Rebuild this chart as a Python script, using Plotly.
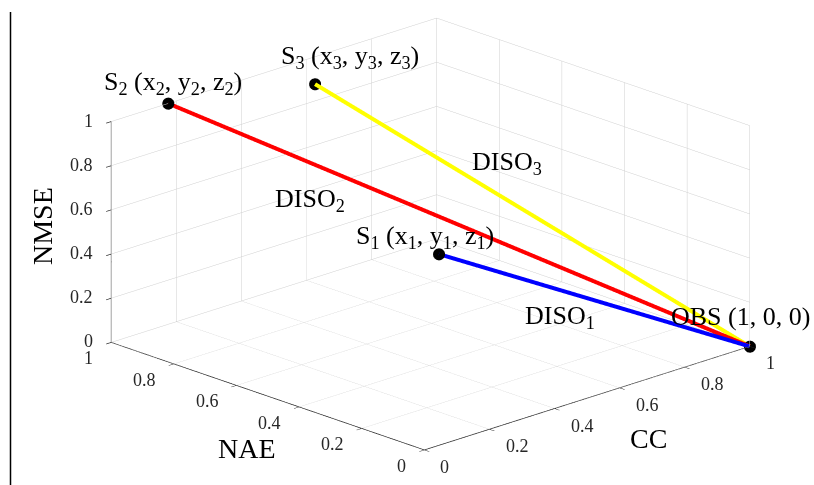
import plotly.graph_objects as go
import numpy as np

# Data: (CC, NAE, NMSE)
point_names = ["OBS", "S1", "S2", "S3"]
cc_vals   = [1.0, 0.42, 0.175, 0.53]
nae_vals  = [0.0, 0.39, 1.0, 0.90]
nmse_vals = [0.0, 0.50, 1.0, 0.97]
line_colors = {"S1": "#0000ff", "S2": "#ff0000", "S3": "#ffff00"}
tick_vals = [0, 0.2, 0.4, 0.6, 0.8, 1.0]
tick_text = ["0", "0.2", "0.4", "0.6", "0.8", "1"]

FONT = "Liberation Serif, Times New Roman, serif"
W, H = 814, 485
TICKC = "#262626"

fig = go.Figure()
for name in ["S2", "S3", "S1"]:
    i = point_names.index(name)
    fig.add_trace(go.Scatter3d(
        x=[cc_vals[i], cc_vals[0]], y=[nae_vals[i], nae_vals[0]], z=[nmse_vals[i], nmse_vals[0]],
        mode="lines", line=dict(color=line_colors[name], width=8), showlegend=False, hoverinfo="skip"))
fig.add_trace(go.Scatter3d(
    x=cc_vals, y=nae_vals, z=nmse_vals, mode="markers",
    marker=dict(color="black", size=7), showlegend=False, hoverinfo="skip"))

def ax():
    return dict(range=[0, 1], tickvals=tick_vals, ticktext=tick_text, title=dict(text=""),
                showgrid=True, gridcolor="#cfcfcf", gridwidth=1, showbackground=False,
                showline=True, linecolor=TICKC, linewidth=1.5, ticks="outside", ticklen=7,
                tickwidth=1.5, tickcolor=TICKC, showticklabels=False,
                zeroline=False, showspikes=False, autorange=False)

el = np.deg2rad(19.3)
gam = np.deg2rad(46.1)
r = 2.0
eye = dict(x=-r*np.cos(el)*np.cos(gam), y=-r*np.cos(el)*np.sin(gam), z=r*np.sin(el))

sub_labels = {
    "S1": "S<sub>1</sub> (x<sub>1</sub>, y<sub>1</sub>, z<sub>1</sub>)",
    "S2": "S<sub>2</sub> (x<sub>2</sub>, y<sub>2</sub>, z<sub>2</sub>)",
    "S3": "S<sub>3</sub> (x<sub>3</sub>, y<sub>3</sub>, z<sub>3</sub>)",
    "OBS": "OBS (1, 0, 0)",
}
label_shift = {"S1": (-14, 17), "S2": (5, 20), "S3": (35, 27), "OBS": (-9, 30)}
scene_ann = []
for i, n in enumerate(point_names):
    sx, sy = label_shift[n]
    scene_ann.append(dict(x=cc_vals[i], y=nae_vals[i], z=nmse_vals[i], text=sub_labels[n],
                          showarrow=False, xshift=sx, yshift=sy, xanchor="center", yanchor="middle",
                          font=dict(family=FONT, size=26, color="black")))

# upright tick labels anchored to the axis edges
tfont = dict(family=FONT, size=18, color=TICKC)
for v, t in zip(tick_vals, tick_text):
    scene_ann.append(dict(x=v, y=0, z=0, text=t, showarrow=False, xanchor="left", yanchor="middle",
                          xshift=14, yshift=-17, font=tfont))
    scene_ann.append(dict(x=0, y=v, z=0, text=t, showarrow=False, xanchor="right", yanchor="middle",
                          xshift=-16, yshift=-16, font=tfont))
    scene_ann.append(dict(x=0, y=1, z=v, text=t, showarrow=False, xanchor="right", yanchor="middle",
                          xshift=-16, yshift=1, font=tfont))

fig.update_layout(
    width=W, height=H, margin=dict(l=0, r=0, t=0, b=0),
    paper_bgcolor="white",
    scene=dict(
        domain=dict(x=[0.058, 1.0], y=[0.035, 1.0]),
        xaxis=ax(), yaxis=ax(), zaxis=ax(),
        aspectmode="manual", aspectratio=dict(x=1.93, y=1.93, z=1.0),
        camera=dict(eye=eye, up=dict(x=0, y=0, z=1), center=dict(x=0, y=0, z=0),
                    projection=dict(type="orthographic")),
        annotations=scene_ann,
    ),
)

def pa(text, px, py, size, angle=0):
    fig.add_annotation(text=text, xref="paper", yref="paper", x=px / W, y=1 - py / H,
                       showarrow=False, xanchor="center", yanchor="middle", textangle=angle,
                       font=dict(family=FONT, size=size, color="black"))

pa("DISO<sub>1</sub>", 560, 317, 26)
pa("DISO<sub>2</sub>", 310, 200, 26)
pa("DISO<sub>3</sub>", 507, 163, 26)
pa("NMSE", 42, 226, 28, -90)
pa("NAE", 247, 448, 28)
pa("CC", 648, 438, 28)

fig.add_shape(type="line", xref="paper", yref="paper", x0=10.5 / W, x1=10.5 / W,
              y0=1 - 12 / H, y1=0, line=dict(color="black", width=1.5))

fig.write_html("out.html")
